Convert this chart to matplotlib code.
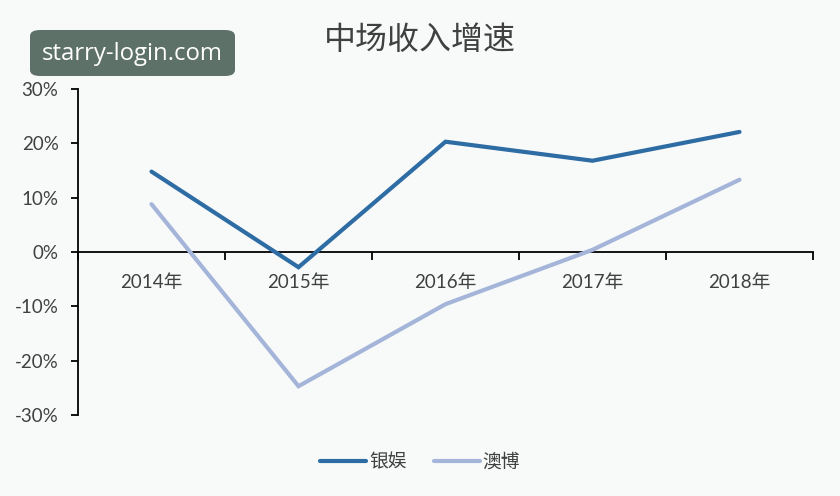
import matplotlib
matplotlib.use("Agg")
import matplotlib.pyplot as plt
from matplotlib.patches import FancyBboxPatch
from matplotlib.ticker import FixedLocator, FuncFormatter

categories = ["2014年", "2015年", "2016年", "2017年", "2018年"]
yinyu = [14.8, -2.8, 20.3, 16.8, 22.1]
aobo = [8.8, -24.7, -9.6, 0.4, 13.3]
series_names = ["银娱", "澳博"]
yticks = [-30, -20, -10, 0, 10, 20, 30]

bg = "#f8fafa"
plt.rcParams['font.family'] = ['Lato', 'Noto Sans CJK SC', 'DejaVu Sans']

fig = plt.figure(figsize=(8.4, 4.96), dpi=100, facecolor=bg)
ax = fig.add_axes([78/840, 1-415/496, (813-78)/840, (415-89)/496])
ax.set_facecolor(bg)

x = list(range(len(categories)))
ax.plot(x, yinyu, color="#2e6ca4", lw=3.0, label=series_names[0], solid_capstyle='round', solid_joinstyle='miter', zorder=3)
ax.plot(x, aobo, color="#a4b5d9", lw=3.0, label=series_names[1], solid_capstyle='round', solid_joinstyle='miter', zorder=3)

ax.set_xlim(-0.5, len(categories) - 0.5)
ax.set_ylim(-30, 30)

for s in ['top', 'right']:
    ax.spines[s].set_visible(False)
ax.spines['bottom'].set_position(('data', 0))
ax.spines['bottom'].set_linewidth(1.3)
ax.spines['left'].set_linewidth(1.3)
ax.spines['bottom'].set_zorder(2)

ax.set_yticks(yticks)
ax.yaxis.set_major_formatter(FuncFormatter(lambda v, p: f"{int(v)}%"))
ax.tick_params(axis='y', direction='out', length=5, width=1.3, labelsize=13.5,
               colors='black', labelcolor='#404040', pad=9)

ax.xaxis.set_major_locator(FixedLocator([i - 0.5 for i in range(len(categories) + 1)]))
ax.xaxis.set_minor_locator(FixedLocator(x))
ax.set_xticklabels([])
ax.set_xticklabels(categories, minor=True)
ax.tick_params(axis='x', which='major', direction='out', length=6, width=1.3)
ax.tick_params(axis='x', which='minor', length=0, labelsize=13.5, labelcolor='#404040', pad=16)

fig.text(0.5, 1-40/496, "中场收入增速", ha='center', va='center', fontsize=23,
         family=['Noto Sans CJK SC', 'DejaVu Sans'], color='#404040')

fig.legend(loc='center', bbox_to_anchor=(0.5, 1-462/496), ncol=2, frameon=False,
           handlelength=2.45, columnspacing=1.45, handletextpad=0.15,
           prop={'family': ['Noto Sans CJK SC', 'DejaVu Sans'], 'size': 13.5}, labelcolor='#404040')

# watermark box
box = FancyBboxPatch((30/840, 1-76/496), (235-30)/840, (76-30)/496,
                     boxstyle="round,pad=0,rounding_size=0.012", transform=fig.transFigure,
                     facecolor="#5e7169", edgecolor='none', zorder=5)
fig.patches.append(box)
fig.text((30+235)/2/840, 1-54/496, "starry-login.com", ha='center', va='center',
         fontsize=17.2, color='white', family='Open Sans', zorder=6)

fig.savefig("out.png", dpi=100, facecolor=bg)
